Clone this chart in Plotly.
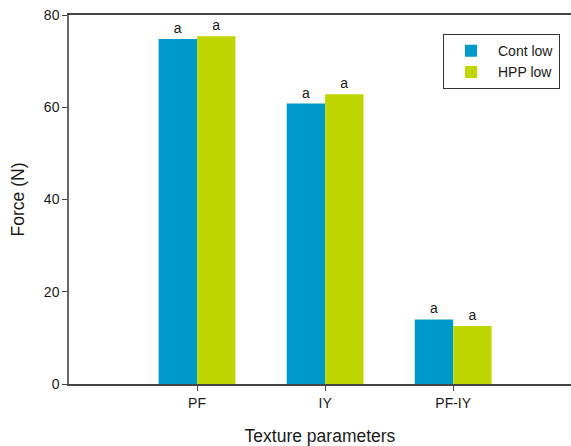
import plotly.graph_objects as go

categories = ["PF", "IY", "PF-IY"]
cont_low = [74.8, 60.8, 14.0]
hpp_low = [75.4, 62.8, 12.6]
cont_letters = ["a", "a", "a"]
hpp_letters = ["a", "a", "a"]

fig = go.Figure()
fig.add_trace(go.Bar(x=categories, y=cont_low, name="Cont low", marker_color="#0099CC",
                     marker_line_width=0, text=cont_letters, textposition="outside",
                     textfont=dict(size=14, color="#1a1a1a"), cliponaxis=False))
fig.add_trace(go.Bar(x=categories, y=hpp_low, name="HPP low", marker_color="#BFD600",
                     marker_line_width=0, text=hpp_letters, textposition="outside",
                     textfont=dict(size=14, color="#1a1a1a"), cliponaxis=False))

fig.update_layout(
    width=571, height=446,
    margin=dict(l=69, r=0, t=15, b=62),
    paper_bgcolor="white", plot_bgcolor="white",
    barmode="group", bargap=0.4, bargroupgap=0,
    font=dict(family="Liberation Sans, Arial", size=14, color="#1a1a1a"),
    showlegend=True,
    legend=dict(x=0.745, y=0.948, xanchor="left", yanchor="top",
                bordercolor="#333", borderwidth=1, bgcolor="white",
                font=dict(size=14), tracegroupgap=0, itemwidth=44),
    uniformtext=dict(minsize=14, mode="show"),
)
fig.update_xaxes(
    range=[-1, 2.92], showgrid=False, showline=True, linecolor="#444", linewidth=1.5,
    mirror=True, ticks="outside", ticklen=5, tickcolor="#444",
    title=dict(text="Texture parameters", font=dict(size=17.5), standoff=20),
)
fig.update_yaxes(
    range=[0, 80], dtick=20, showgrid=False, showline=True, linecolor="#666", linewidth=1.5,
    ticks="outside", ticklen=5, tickcolor="#444", zeroline=False,
    title=dict(text="Force (N)", font=dict(size=17.5), standoff=15),
)
fig.write_html("out.html")
